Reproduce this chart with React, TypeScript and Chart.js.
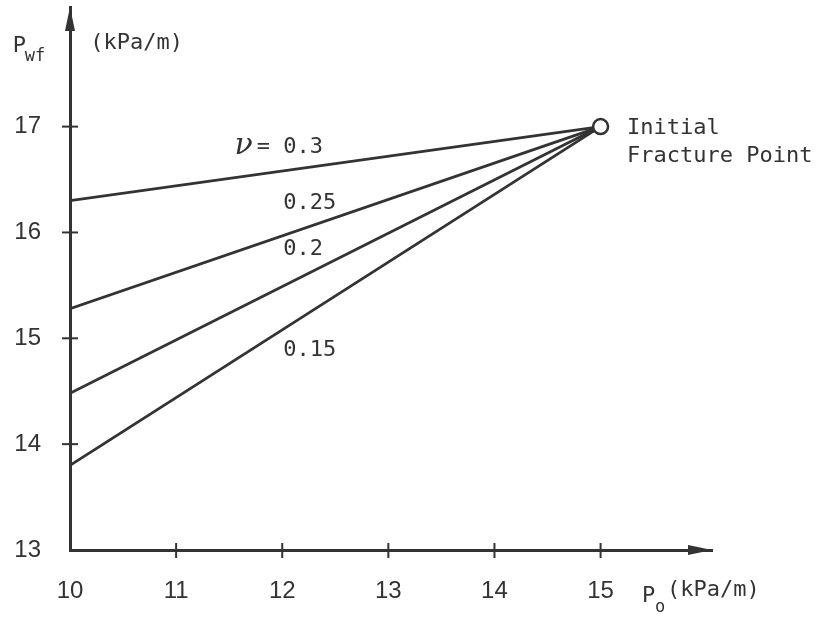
import React, { useEffect, useRef } from 'react';
import { Chart, registerables } from 'chart.js';

Chart.register(...registerables);

// ---- data ----
const poStart = 10;
const poEnd = 15;
const nuValues = ['0.3', '0.25', '0.2', '0.15'];
const pwfAtStart = [16.3, 15.28, 14.48, 13.8];
const pwfAtEnd = [17, 17, 17, 17];
const fractureX = [15];
const fractureY = [17];
const xTickValues = [10, 11, 12, 13, 14, 15];
const yTickValues = [13, 14, 15, 16, 17];
const xAxisMin = 10;
const xAxisMax = 16.05;
const yAxisMin = 13;
const yAxisMax = 18.13;

// labels anchored in data coordinates
const curveLabelText = ['= 0.3', '0.25', '0.2', '0.15'];
const curveLabelX = [11.76, 12.01, 12.01, 12.01];
const curveLabelY = [16.8, 16.28, 15.84, 14.89];
const nuSymbolX = 11.55;
const nuSymbolY = 16.8;
const noteLines = ['Initial', 'Fracture Point'];
const noteX = 15.25;
const noteY = [16.98, 16.72];

const INK = '#333333';
const MONO = '"DejaVu Sans Mono", monospace';
const TICKFONT = '"Liberation Sans Narrow", "Liberation Sans", sans-serif';

const overlay = {
  id: 'overlay',
  afterDraw(chart: any) {
    const ctx = chart.ctx as CanvasRenderingContext2D;
    const xs = chart.scales.x;
    const ys = chart.scales.y;
    const { left, bottom, top, right } = chart.chartArea;
    ctx.save();
    ctx.strokeStyle = INK;
    ctx.fillStyle = INK;
    ctx.lineWidth = 2;
    // tick marks crossing the axes
    xTickValues.forEach((v) => {
      if (v === xAxisMin) return;
      const px = xs.getPixelForValue(v);
      ctx.beginPath();
      ctx.moveTo(px, bottom - 7);
      ctx.lineTo(px, bottom + 8);
      ctx.stroke();
    });
    yTickValues.forEach((v) => {
      if (v === yAxisMin) return;
      const py = ys.getPixelForValue(v);
      ctx.beginPath();
      ctx.moveTo(left - 8, py);
      ctx.lineTo(left + 8, py);
      ctx.stroke();
    });
    // arrowheads
    ctx.beginPath();
    ctx.moveTo(left, top);
    ctx.lineTo(left - 5, top + 24);
    ctx.lineTo(left + 5, top + 24);
    ctx.closePath();
    ctx.fill();
    ctx.beginPath();
    ctx.moveTo(right, bottom);
    ctx.lineTo(right - 24, bottom - 5);
    ctx.lineTo(right - 24, bottom + 5);
    ctx.closePath();
    ctx.fill();

    // texts
    ctx.textBaseline = 'middle';
    ctx.textAlign = 'left';
    ctx.font = `22px ${MONO}`;
    curveLabelText.forEach((t, i) => {
      ctx.fillText(t, xs.getPixelForValue(curveLabelX[i]), ys.getPixelForValue(curveLabelY[i]));
    });
    ctx.font = 'italic 30px "DejaVu Serif", serif';
    ctx.fillText('ν', xs.getPixelForValue(nuSymbolX), ys.getPixelForValue(nuSymbolY) - 2);
    ctx.font = `22px ${MONO}`;
    noteLines.forEach((t, i) => {
      ctx.fillText(t, xs.getPixelForValue(noteX), ys.getPixelForValue(noteY[i]));
    });
    // y axis title
    const yTitleX = xs.getPixelForValue(9.46);
    const yTitleY = ys.getPixelForValue(17.76);
    ctx.fillText('P', yTitleX, yTitleY);
    ctx.font = `17px ${MONO}`;
    ctx.fillText('wf', yTitleX + 12, yTitleY + 10);
    ctx.font = `22px ${MONO}`;
    ctx.fillText('(kPa/m)', xs.getPixelForValue(10.19), ys.getPixelForValue(17.79));
    // x axis title
    const xTitleX = xs.getPixelForValue(15.39);
    const xTitleY = ys.getPixelForValue(12.56);
    ctx.fillText('P', xTitleX, xTitleY);
    ctx.font = `17px ${MONO}`;
    ctx.fillText('o', xTitleX + 13, xTitleY + 11);
    ctx.font = `22px ${MONO}`;
    ctx.fillText('(kPa/m)', xTitleX + 25, xTitleY - 6);
    ctx.restore();
  },
};

export default function App() {
  const ref = useRef<HTMLCanvasElement | null>(null);
  useEffect(() => {
    document.body.style.margin = '0';
    const datasets: any[] = [
      {
        label: 'Initial Fracture Point',
        data: fractureX.map((x, i) => ({ x, y: fractureY[i] })),
        showLine: false,
        pointRadius: 7.5,
        pointBorderWidth: 2.5,
        pointBackgroundColor: '#ffffff',
        pointBorderColor: INK,
      },
      ...nuValues.map((nu, i) => ({
        label: `ν = ${nu}`,
        data: [
          { x: poStart, y: pwfAtStart[i] },
          { x: poEnd, y: pwfAtEnd[i] },
        ],
        borderColor: INK,
        borderWidth: 2.8,
        pointRadius: 0,
        showLine: true,
        fill: false,
      })),
    ];
    const chart = new Chart(ref.current as HTMLCanvasElement, {
      type: 'scatter',
      data: { datasets },
      options: {
        animation: false,
        responsive: true,
        maintainAspectRatio: false,
        layout: { autoPadding: false, padding: { top: 7, right: 106, left: 0, bottom: 0 } },
        plugins: { legend: { display: false }, tooltip: { enabled: false } },
        scales: {
          x: {
            type: 'linear',
            min: xAxisMin,
            max: xAxisMax,
            afterBuildTicks: (axis: any) => {
              axis.ticks = xTickValues.map((v) => ({ value: v }));
            },
            afterFit: (axis: any) => {
              axis.height = 67;
              axis.paddingLeft = 0;
              axis.paddingRight = 0;
            },
            grid: { display: false, drawTicks: false },
            border: { display: true, color: INK, width: 3 },
            ticks: {
              color: INK,
              padding: 27,
              maxRotation: 0,
              autoSkip: false,
              font: { family: TICKFONT, size: 24 },
              callback: (v: any) => String(v),
            },
          },
          y: {
            type: 'linear',
            min: yAxisMin,
            max: yAxisMax,
            afterBuildTicks: (axis: any) => {
              axis.ticks = yTickValues.map((v) => ({ value: v }));
            },
            afterFit: (axis: any) => {
              axis.width = 70;
              axis.paddingTop = 0;
              axis.paddingBottom = 0;
            },
            grid: { display: false, drawTicks: false },
            border: { display: true, color: INK, width: 3 },
            ticks: {
              color: INK,
              padding: 29,
              autoSkip: false,
              font: { family: TICKFONT, size: 24 },
              callback: (v: any) => String(v),
            },
          },
        },
      },
      plugins: [overlay],
    });
    return () => chart.destroy();
  }, []);
  return (
    <div style={{ width: 818, height: 617, position: 'relative', background: '#fff' }}>
      <canvas ref={ref} />
    </div>
  );
}
